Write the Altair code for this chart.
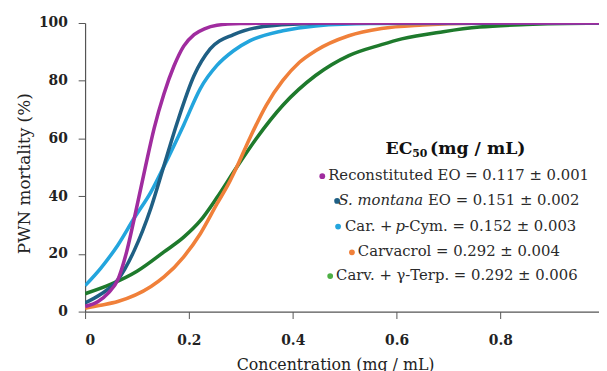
import altair as alt
import pandas as pd

FONT = "DejaVu Serif"

series = ["Carv. + γ-Terp.", "Carvacrol", "Car. + p-Cym.", "S. montana EO", "Reconstituted EO"]
line_colors = ["#1E7A2C", "#F0803A", "#23A5DD", "#1F5F84", "#A02C9F"]

green_x = [0, 0.05, 0.1, 0.152, 0.19, 0.222, 0.254, 0.292, 0.33, 0.381, 0.444, 0.508, 0.571, 0.61, 0.69, 0.76, 0.85, 0.99]
green_y = [6.2, 9.5, 14, 20.7, 25.8, 31.5, 39.5, 50, 60, 71.5, 81.8, 88.7, 92.5, 94.5, 97, 98.6, 99.5, 100]

orange_x = [0, 0.03, 0.063, 0.127, 0.152, 0.19, 0.222, 0.254, 0.279, 0.292, 0.317, 0.349, 0.381, 0.413, 0.444, 0.508, 0.571, 0.65, 0.75, 0.99]
orange_y = [1.2, 2.2, 3.5, 8.7, 12, 19, 27, 37.3, 45.2, 50, 60, 71.5, 80.1, 86.4, 90.4, 95.6, 98.1, 99.3, 99.9, 100]

lblue_x = [0, 0.03, 0.063, 0.095, 0.127, 0.151, 0.19, 0.222, 0.254, 0.286, 0.317, 0.381, 0.444, 0.55, 0.99]
lblue_y = [9, 15, 23, 32.5, 41.5, 50, 64.7, 77.3, 85.3, 90.4, 93.8, 97.3, 99, 99.8, 100]

dblue_x = [0, 0.03, 0.063, 0.095, 0.127, 0.151, 0.178, 0.21, 0.241, 0.286, 0.33, 0.4, 0.5, 0.99]
dblue_y = [3, 6, 11, 21.3, 36, 50, 65.8, 81.8, 91, 96, 98.4, 99.6, 100, 100]

purple_x = [0, 0.025, 0.045, 0.063, 0.079, 0.095, 0.116, 0.133, 0.152, 0.171, 0.19, 0.21, 0.23, 0.254, 0.3, 0.4, 0.99]
purple_y = [1.8, 3.5, 6.5, 11, 20, 32.5, 50, 63.5, 75.5, 85, 92, 96, 98, 99.2, 99.8, 100, 100]

curves = [(green_x, green_y), (orange_x, orange_y), (lblue_x, lblue_y), (dblue_x, dblue_y), (purple_x, purple_y)]

x_ticks = [0, 0.2, 0.4, 0.6, 0.8]
y_ticks = [0, 20, 40, 60, 80, 100]

legend_title = ["EC", "50", "(mg / mL)"]
legend_dot_colors = ["#A02C9F", "#1F5F84", "#23A5DD", "#F0803A", "#4DAF44"]

x_axis = alt.Axis(values=x_ticks, labelExpr="datum.value == 0 ? '0' : format(datum.value, '.1f')",
                  grid=False, domainColor="#555", tickColor="#555", tickSize=7, domainWidth=1.2,
                  labelFont=FONT, labelFontWeight="bold", labelFontSize=14, labelColor="#222",
                  labelPadding=15, title="Concentration (mg / mL)", titleFont=FONT, titleFontSize=16,
                  titleFontWeight="normal", titleColor="#222", titleX=253, titleY=54,
                  titleBaseline="middle", titleAlign="center")
y_axis = alt.Axis(values=y_ticks, grid=False, domainColor="#555", tickColor="#555", tickSize=7,
                  domainWidth=1.2, labelFont=FONT, labelFontWeight="bold", labelFontSize=14,
                  labelColor="#222", labelPadding=11, title="PWN mortality (%)", titleFont=FONT,
                  titleFontSize=17, titleFontWeight="normal", titleColor="#222", titleX=-61,
                  titleY=152, titleAngle=270, titleAlign="center", titleBaseline="middle")

layers = []
for (xs, ys), name, col in zip(curves, series, line_colors):
    df = pd.DataFrame({"x": xs, "y": ys, "s": name})
    layers.append(
        alt.Chart(df).mark_line(interpolate="monotone", strokeWidth=3.6, color=col, clip=True).encode(
            x=alt.X("x:Q", scale=alt.Scale(domain=[0, 0.99], nice=False, zero=False), axis=x_axis),
            y=alt.Y("y:Q", scale=alt.Scale(domain=[0, 100], nice=False), axis=y_axis),
        )
    )

one = pd.DataFrame({"k": [0]})


def txt(s, x, y, size=15, weight="normal", style="normal", align="left", color="#2a2a2a"):
    return alt.Chart(one).mark_text(text=s, font=FONT, fontSize=size, fontWeight=weight,
                                    fontStyle=style, align=align, baseline="middle",
                                    color=color).encode(x=alt.value(x), y=alt.value(y))


def dot(x, y, col):
    return alt.Chart(one).mark_point(filled=True, size=34, opacity=1, color=col).encode(
        x=alt.value(x), y=alt.value(y))


# legend
layers += [
    txt(legend_title[0], 304, 128, size=17.5, weight="bold", color="#111"),
    txt(legend_title[1], 331, 133, size=11, weight="bold", color="#111"),
    txt(legend_title[2], 349, 128, size=17.5, weight="bold", color="#111"),
]
rows_y = [154, 179, 205, 231, 255]
dots_x = [240, 255, 256, 270, 248]
for yy, xx, c in zip(rows_y, dots_x, legend_dot_colors):
    layers.append(dot(xx, yy + 1, c))
layers += [
    txt("Reconstituted EO = 0.117 ± 0.001", 246, rows_y[0]),
    txt("S. montana", 342, rows_y[1], style="italic", align="right"),
    txt("EO = 0.151 ± 0.002", 347, rows_y[1]),
    txt("Car. +", 263, rows_y[2]),
    txt("p", 314, rows_y[2], style="italic"),
    txt("-Cym. = 0.152 ± 0.003", 323, rows_y[2]),
    txt("Carvacrol = 0.292 ± 0.004", 276, rows_y[3]),
    txt("Carv. + γ-Terp. = 0.292 ± 0.006", 254, rows_y[4]),
]

chart = alt.layer(*layers).properties(
    width=520, height=292, autosize="none",
    padding={"left": 78, "top": 13, "right": 0, "bottom": 65},
    background="white",
).configure_view(stroke=None)

chart.save("out.html", embed_options={"renderer": "svg", "actions": False})
